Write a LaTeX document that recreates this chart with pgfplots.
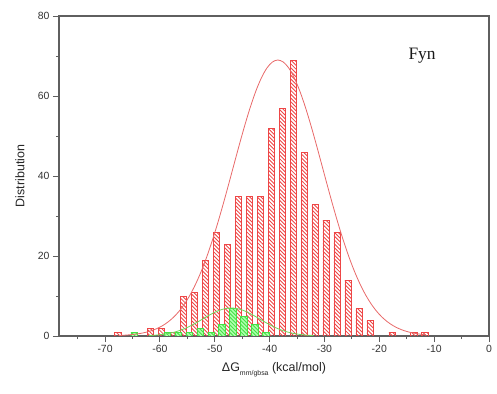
\documentclass[border=0pt]{standalone}
\usepackage{fontspec}
\setmainfont{Liberation Sans}
\newfontfamily\timesfont{Liberation Serif}
\usepackage{pgfplots}
\pgfplotsset{compat=1.18}
\usetikzlibrary{patterns}
\pgfdeclarepatternformonly{hatchnw}{\pgfqpoint{-1pt}{-1pt}}{\pgfqpoint{5pt}{5pt}}{\pgfqpoint{3.8pt}{3.8pt}}{%
  \pgfsetlinewidth{0.85pt}%
  \pgfpathmoveto{\pgfqpoint{0pt}{3.8pt}}%
  \pgfpathlineto{\pgfqpoint{3.9pt}{-0.1pt}}%
  \pgfusepath{stroke}}
\definecolor{hatchred}{RGB}{238,70,70}
\definecolor{curvered}{RGB}{232,105,105}
\definecolor{hatchgreen}{RGB}{70,225,70}
\definecolor{fillgreen}{RGB}{175,255,175}
\definecolor{curvegreen}{RGB}{110,215,90}
\definecolor{axisgray}{RGB}{95,95,95}
\begin{document}
\begin{tikzpicture}
\path[use as bounding box] (-59bp,-58bp) rectangle (438bp,336bp);
\begin{axis}[
  at={(0,0)}, anchor=south west,
  scale only axis, width=430bp, height=320bp,
  xmin=-78.4, xmax=0, ymin=0, ymax=80,
  xtick={-70,-60,...,0}, minor xtick={-75,-65,...,-5},
  ytick={0,20,...,80}, minor ytick={10,30,50,70},
  xtick pos=bottom, ytick pos=left, tick align=outside,
  major tick length=6bp, minor tick length=3bp,
  axis line style={draw=axisgray, line width=1.3bp},
  every tick/.style={draw=axisgray, line width=0.9bp},
  every minor tick/.style={draw=axisgray, line width=0.9bp},
  ticklabel style={font=\fontsize{10.5}{12}\selectfont, text=black!80},
  /pgf/number format/assume math mode=true,
  xlabel={ΔG\raisebox{-0.6ex}{\fontsize{7}{8}\selectfont mm/gbsa} (kcal/mol)},
  ylabel={Distribution},
  label style={font=\fontsize{12.5}{14}\selectfont, text=black!85},
  xlabel style={at={(axis description cs:0.5,-0.106)}, anchor=center},
  ylabel style={at={(axis description cs:-0.091,0.5)}, anchor=center},
  clip=true,
]
% red histogram
\addplot[ybar, bar width=1.15, bar shift=0pt, draw=hatchred, line width=0.5bp,
  pattern=hatchnw, pattern color=hatchred]
coordinates {
(-67.7,1) (-61.7,2) (-59.7,2) (-57.7,1) (-55.7,10) (-53.7,11) (-51.7,19)
(-49.7,26) (-47.7,23) (-45.7,35) (-43.7,35) (-41.7,35) (-39.7,52) (-37.7,57)
(-35.7,69) (-33.7,46) (-31.7,33) (-29.7,29) (-27.7,26) (-25.7,14) (-23.7,7)
(-21.7,4) (-17.7,1) (-13.7,1) (-11.7,1)
};
% green histogram
\addplot[ybar, bar width=1.15, bar shift=0pt, draw=hatchgreen, line width=0.5bp,
  fill=fillgreen,
  postaction={pattern=hatchnw, pattern color=hatchgreen}]
coordinates {
(-64.7,1) (-58.7,1) (-56.7,1) (-54.7,1) (-52.7,2) (-50.7,1) (-48.7,3)
(-46.7,7) (-44.7,5) (-42.7,3) (-40.7,1)
};
% red fitted curve
\addplot[curvered, line width=0.8bp, smooth, no marks] coordinates {
(-67.5,0.13) (-66.5,0.20) (-65.5,0.31) (-64.5,0.45) (-63.5,0.66) (-62.5,0.95)
(-61.5,1.35) (-60.5,1.89) (-59.5,2.60) (-58.5,3.53) (-57.5,4.71) (-56.5,6.20)
(-55.5,8.05) (-54.5,10.28) (-53.5,12.95) (-52.5,16.06) (-51.5,19.64) (-50.5,23.65)
(-49.5,28.06) (-48.5,32.80) (-47.5,37.78) (-46.5,42.87) (-45.5,47.93) (-44.5,52.79)
(-43.5,57.30) (-42.5,61.26) (-41.5,64.53) (-40.5,66.98) (-39.5,68.49) (-38.5,69.00)
(-37.5,68.49) (-36.5,66.98) (-35.5,64.53) (-34.5,61.26) (-33.5,57.30) (-32.5,52.79)
(-31.5,47.93) (-30.5,42.87) (-29.5,37.78) (-28.5,32.80) (-27.5,28.06) (-26.5,23.65)
(-25.5,19.64) (-24.5,16.06) (-23.5,12.95) (-22.5,10.28) (-21.5,8.05) (-20.5,6.20)
(-19.5,4.71) (-18.5,3.53) (-17.5,2.60) (-16.5,1.89) (-15.5,1.35) (-14.5,0.95)
(-13.5,0.66) (-12.5,0.45) (-11.5,0.31)
};
% green fitted curve
\addplot[curvegreen, line width=0.8bp, smooth, no marks] coordinates {
(-62,0.11) (-61,0.19) (-60,0.31) (-59,0.49) (-58,0.75) (-57,1.10) (-56,1.57)
(-55,2.14) (-54,2.83) (-53,3.60) (-52,4.41) (-51,5.21) (-50,5.93) (-49,6.50)
(-48,6.87) (-47,7.00) (-46,6.87) (-45,6.50) (-44,5.93) (-43,5.21) (-42,4.41)
(-41,3.60) (-40,2.83) (-39,2.14) (-38,1.57) (-37,1.10) (-36,0.75) (-35,0.49)
(-34,0.31) (-33,0.19) (-32,0.11)
};
\node[font=\timesfont\fontsize{17.5}{20}\selectfont, text=black!90] at (axis cs:-12.2,70.2) {Fyn};
\end{axis}
\end{tikzpicture}
\end{document}
